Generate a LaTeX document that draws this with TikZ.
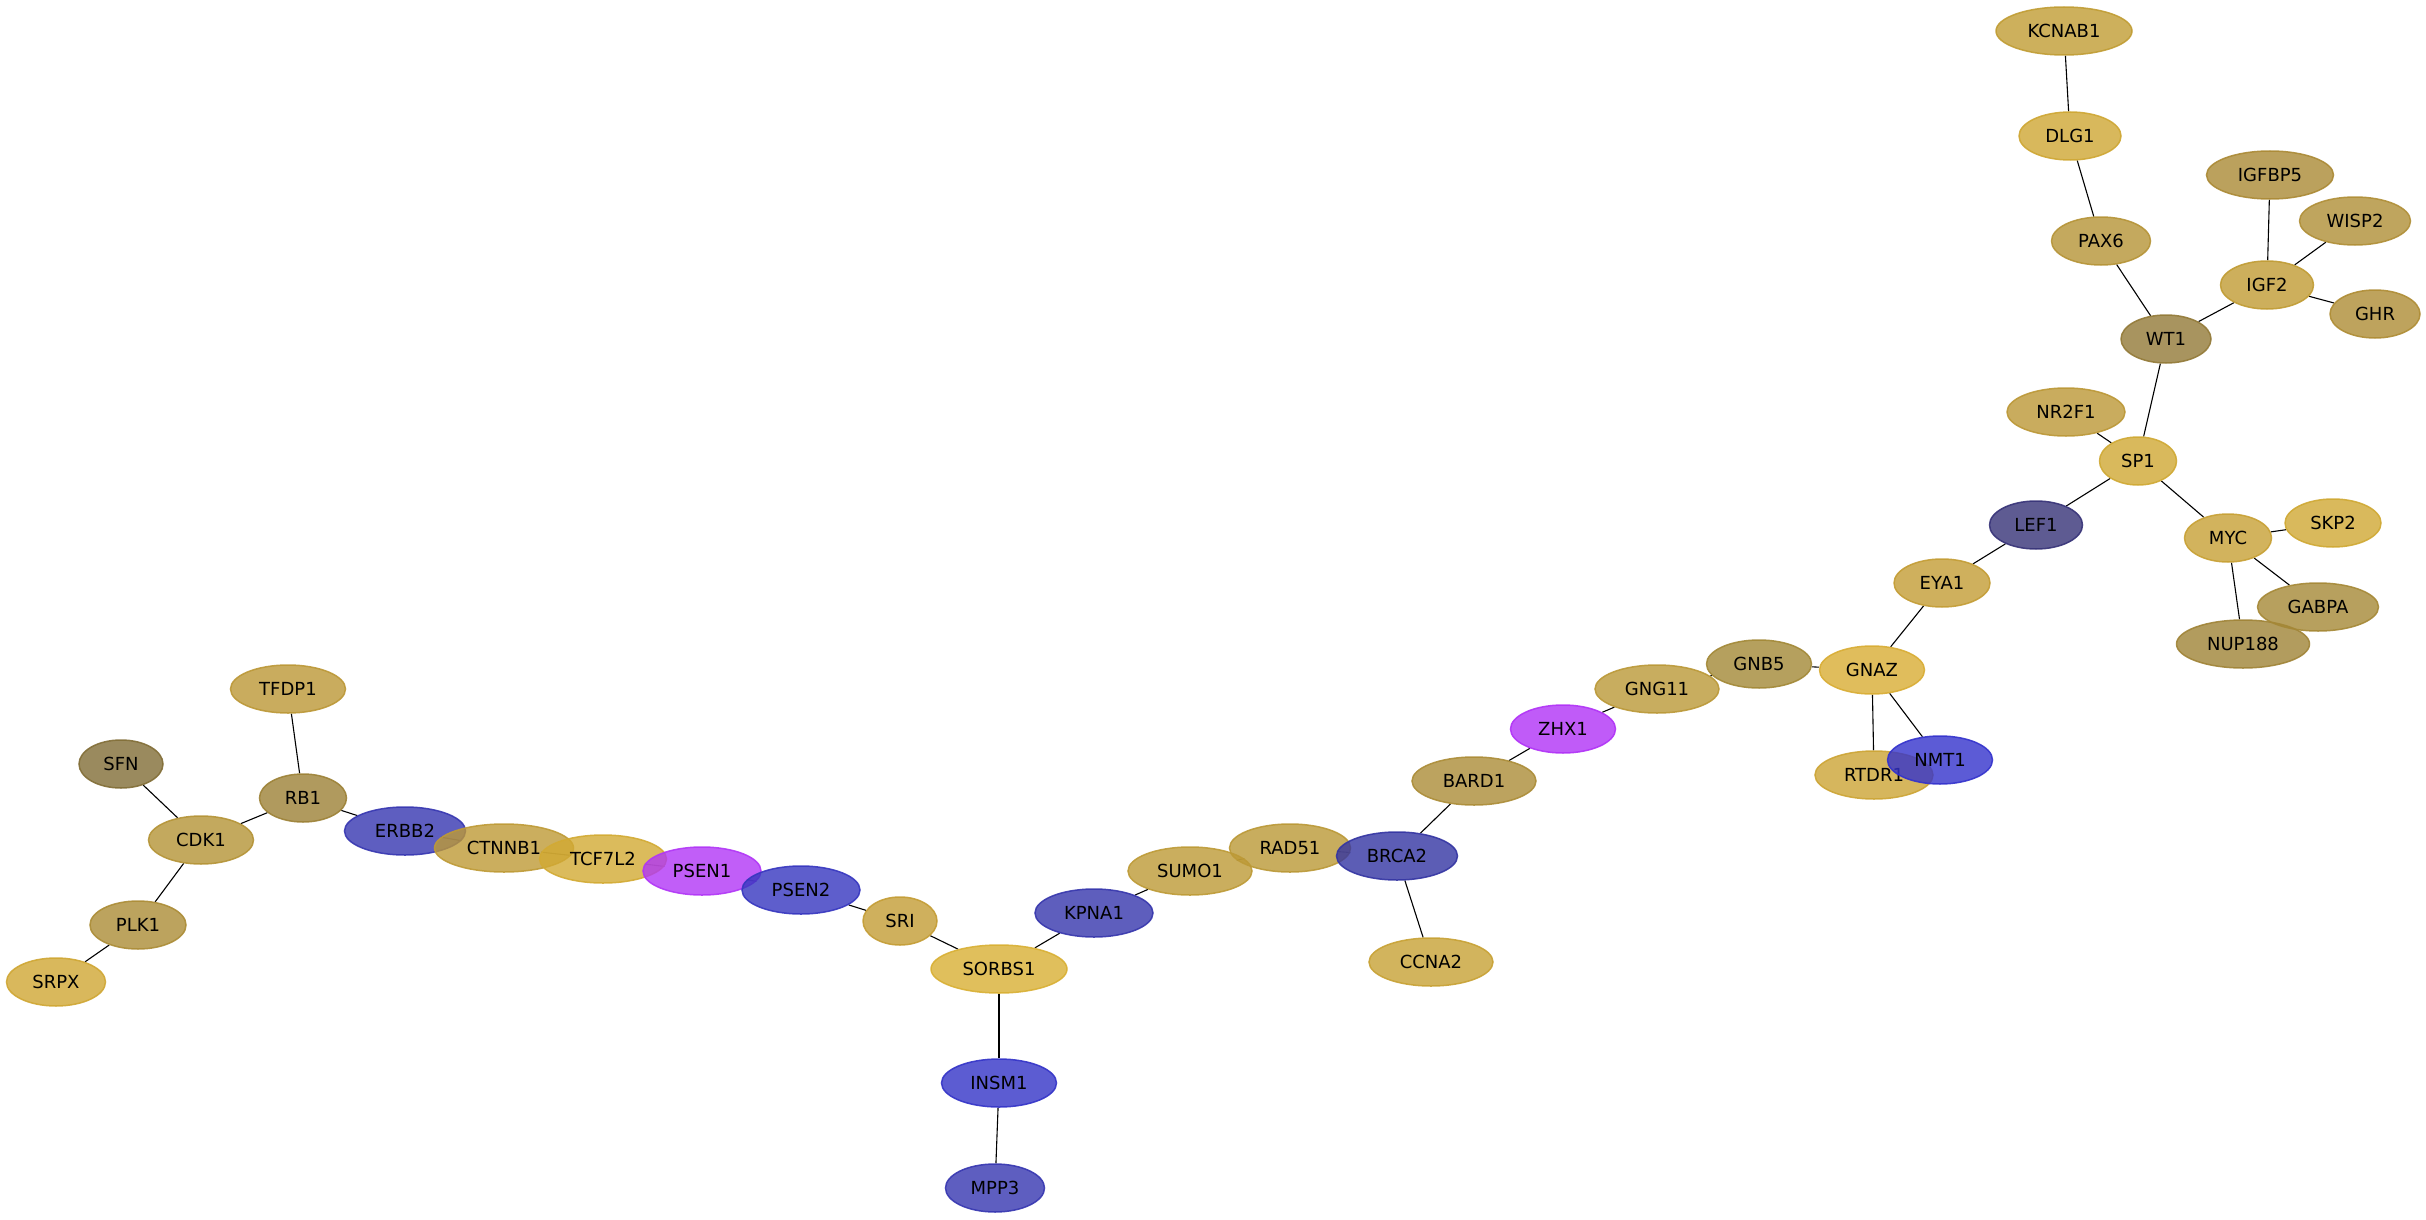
\documentclass[tikz,border=0pt]{standalone}
\usepackage{fontspec}
\setmainfont{DejaVu Sans}
\usetikzlibrary{shapes.geometric}
\pgfdeclarelayer{background}
\pgfsetlayers{background,main}
\definecolor{cKCNAB1}{RGB}{192,156,51}
\definecolor{cDLG1}{RGB}{206,166,51}
\definecolor{cIGFBP5}{RGB}{170,137,52}
\definecolor{cWISP2}{RGB}{175,142,54}
\definecolor{cPAX6}{RGB}{181,147,54}
\definecolor{cIGF2}{RGB}{192,155,51}
\definecolor{cGHR}{RGB}{174,140,52}
\definecolor{cWT1}{RGB}{146,121,55}
\definecolor{cNR2F1}{RGB}{187,151,54}
\definecolor{cSP1}{RGB}{207,168,51}
\definecolor{cLEF1}{RGB}{54,50,119}
\definecolor{cMYC}{RGB}{199,160,52}
\definecolor{cSKP2}{RGB}{207,168,51}
\definecolor{cGABPA}{RGB}{165,136,54}
\definecolor{cNUP188}{RGB}{159,131,54}
\definecolor{cEYA1}{RGB}{195,156,52}
\definecolor{cGNAZ}{RGB}{216,172,51}
\definecolor{cGNB5}{RGB}{162,136,54}
\definecolor{cGNG11}{RGB}{186,152,55}
\definecolor{cRTDR1}{RGB}{204,164,52}
\definecolor{cNMT1}{RGB}{51,50,204}
\definecolor{cZHX1}{RGB}{176,50,246}
\definecolor{cBARD1}{RGB}{171,140,55}
\definecolor{cBRCA2}{RGB}{51,52,162}
\definecolor{cRAD51}{RGB}{186,152,54}
\definecolor{cCCNA2}{RGB}{199,161,52}
\definecolor{cSUMO1}{RGB}{189,154,54}
\definecolor{cKPNA1}{RGB}{54,54,172}
\definecolor{cSORBS1}{RGB}{216,175,51}
\definecolor{cINSM1}{RGB}{51,51,199}
\definecolor{cMPP3}{RGB}{54,54,176}
\definecolor{cSRI}{RGB}{195,156,52}
\definecolor{cPSEN2}{RGB}{54,54,191}
\definecolor{cPSEN1}{RGB}{177,54,246}
\definecolor{cTCF7L2}{RGB}{210,170,51}
\definecolor{cCTNNB1}{RGB}{190,154,54}
\definecolor{cERBB2}{RGB}{54,54,176}
\definecolor{cRB1}{RGB}{156,129,54}
\definecolor{cTFDP1}{RGB}{187,151,54}
\definecolor{cSFN}{RGB}{129,109,54}
\definecolor{cCDK1}{RGB}{180,147,54}
\definecolor{cPLK1}{RGB}{171,140,54}
\definecolor{cSRPX}{RGB}{207,166,51}
\tikzset{
  gn/.style={ellipse, fill=#1, draw=#1, fill opacity=0.8, draw opacity=0.9, text opacity=1,
    line width=1.5pt, minimum height=48pt, inner sep=0pt,
    font=\fontsize{18}{21}\selectfont, text=black},
  link/.style={draw=black, line width=1.1pt}
}
\begin{document}
\begin{tikzpicture}[x=1pt,y=-1pt]
\useasboundingbox (0,0) rectangle (2426,1220);
% nodes
\node[gn=cKCNAB1, minimum width=136pt] (KCNAB1) at (2064,31) {KCNAB1};
\node[gn=cDLG1, minimum width=102pt] (DLG1) at (2070,136) {DLG1};
\node[gn=cIGFBP5, minimum width=127pt] (IGFBP5) at (2270,175) {IGFBP5};
\node[gn=cWISP2, minimum width=111pt] (WISP2) at (2355,221) {WISP2};
\node[gn=cPAX6, minimum width=99pt] (PAX6) at (2101,241) {PAX6};
\node[gn=cIGF2, minimum width=93pt] (IGF2) at (2267,285) {IGF2};
\node[gn=cGHR, minimum width=90pt] (GHR) at (2375,314) {GHR};
\node[gn=cWT1, minimum width=90pt] (WT1) at (2166,339) {WT1};
\node[gn=cNR2F1, minimum width=118pt] (NR2F1) at (2066,412) {NR2F1};
\node[gn=cSP1, minimum width=77pt] (SP1) at (2138,461) {SP1};
\node[gn=cLEF1, minimum width=93pt] (LEF1) at (2036,525) {LEF1};
\node[gn=cMYC, minimum width=87pt] (MYC) at (2228,538) {MYC};
\node[gn=cSKP2, minimum width=96pt] (SKP2) at (2333,523) {SKP2};
\node[gn=cNUP188, minimum width=133pt] (NUP188) at (2243,644) {NUP188};
\node[gn=cGABPA, minimum width=121pt] (GABPA) at (2318,607) {GABPA};
\node[gn=cEYA1, minimum width=96pt] (EYA1) at (1942,583) {EYA1};
\node[gn=cGNAZ, minimum width=105pt] (GNAZ) at (1872,670) {GNAZ};
\node[gn=cGNB5, minimum width=105pt] (GNB5) at (1759,664) {GNB5};
\node[gn=cGNG11, minimum width=124pt] (GNG11) at (1657,689) {GNG11};
\node[gn=cRTDR1, minimum width=118pt] (RTDR1) at (1874,775) {RTDR1};
\node[gn=cNMT1, minimum width=105pt] (NMT1) at (1940,760) {NMT1};
\node[gn=cZHX1, minimum width=105pt] (ZHX1) at (1563,729) {ZHX1};
\node[gn=cBARD1, minimum width=124pt] (BARD1) at (1474,781) {BARD1};
\node[gn=cRAD51, minimum width=121pt] (RAD51) at (1290,848) {RAD51};
\node[gn=cBRCA2, minimum width=121pt] (BRCA2) at (1397,856) {BRCA2};
\node[gn=cCCNA2, minimum width=124pt] (CCNA2) at (1431,962) {CCNA2};
\node[gn=cSUMO1, minimum width=124pt] (SUMO1) at (1190,871) {SUMO1};
\node[gn=cKPNA1, minimum width=118pt] (KPNA1) at (1094,913) {KPNA1};
\node[gn=cSORBS1, minimum width=136pt] (SORBS1) at (999,969) {SORBS1};
\node[gn=cINSM1, minimum width=115pt] (INSM1) at (999,1083) {INSM1};
\node[gn=cMPP3, minimum width=99pt] (MPP3) at (995,1188) {MPP3};
\node[gn=cSRI, minimum width=74pt] (SRI) at (900,921) {SRI};
\node[gn=cERBB2, minimum width=121pt] (ERBB2) at (405,831) {ERBB2};
\node[gn=cCTNNB1, minimum width=139pt] (CTNNB1) at (504,848) {CTNNB1};
\node[gn=cTCF7L2, minimum width=127pt] (TCF7L2) at (603,859) {TCF7L2};
\node[gn=cPSEN1, minimum width=118pt] (PSEN1) at (702,871) {PSEN1};
\node[gn=cPSEN2, minimum width=118pt] (PSEN2) at (801,890) {PSEN2};
\node[gn=cRB1, minimum width=87pt] (RB1) at (303,798) {RB1};
\node[gn=cTFDP1, minimum width=115pt] (TFDP1) at (288,689) {TFDP1};
\node[gn=cSFN, minimum width=84pt] (SFN) at (121,764) {SFN};
\node[gn=cCDK1, minimum width=105pt] (CDK1) at (201,840) {CDK1};
\node[gn=cPLK1, minimum width=96pt] (PLK1) at (138,925) {PLK1};
\node[gn=cSRPX, minimum width=99pt] (SRPX) at (56,982) {SRPX};
% edges, beneath the nodes
\begin{pgfonlayer}{background}
\draw[link] (KCNAB1) -- (DLG1);
\draw[link] (DLG1) -- (PAX6);
\draw[link] (PAX6) -- (WT1);
\draw[link] (IGFBP5) -- (IGF2);
\draw[link] (WISP2) -- (IGF2);
\draw[link] (IGF2) -- (GHR);
\draw[link] (IGF2) -- (WT1);
\draw[link] (WT1) -- (SP1);
\draw[link] (NR2F1) -- (SP1);
\draw[link] (SP1) -- (LEF1);
\draw[link] (SP1) -- (MYC);
\draw[link] (MYC) -- (SKP2);
\draw[link] (MYC) -- (GABPA);
\draw[link] (MYC) -- (NUP188);
\draw[link] (LEF1) -- (EYA1);
\draw[link] (EYA1) -- (GNAZ);
\draw[link] (GNAZ) -- (GNB5);
\draw[link] (GNAZ) -- (RTDR1);
\draw[link] (GNAZ) -- (NMT1);
\draw[link] (GNB5) -- (GNG11);
\draw[link] (GNG11) -- (ZHX1);
\draw[link] (ZHX1) -- (BARD1);
\draw[link] (BARD1) -- (BRCA2);
\draw[link] (BRCA2) -- (RAD51);
\draw[link] (BRCA2) -- (CCNA2);
\draw[link] (RAD51) -- (SUMO1);
\draw[link] (SUMO1) -- (KPNA1);
\draw[link] (KPNA1) -- (SORBS1);
\draw[link] (SORBS1) -- (SRI);
\draw[link] (SORBS1) -- (INSM1);
\draw[link] (INSM1) -- (MPP3);
\draw[link] (SRI) -- (PSEN2);
\draw[link] (PSEN2) -- (PSEN1);
\draw[link] (PSEN1) -- (TCF7L2);
\draw[link] (TCF7L2) -- (CTNNB1);
\draw[link] (CTNNB1) -- (ERBB2);
\draw[link] (ERBB2) -- (RB1);
\draw[link] (RB1) -- (TFDP1);
\draw[link] (RB1) -- (CDK1);
\draw[link] (CDK1) -- (SFN);
\draw[link] (CDK1) -- (PLK1);
\draw[link] (PLK1) -- (SRPX);
\end{pgfonlayer}
\end{tikzpicture}
\end{document}
